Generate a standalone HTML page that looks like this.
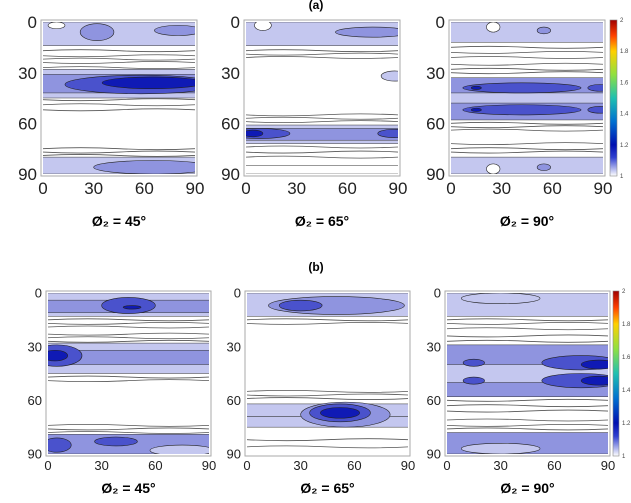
<!DOCTYPE html>
<html><head><meta charset="utf-8"><style>
body{margin:0;background:#fff;width:631px;height:503px;overflow:hidden;font-family:"Liberation Sans",sans-serif}
svg{position:absolute;left:0;top:0}
</style></head><body>
<svg id="c" width="631" height="503"></svg>
<script>
const levelColors=["#ffffff","#c4c7ef","#8f94df","#4a52cc","#0f1ab5"];
const tickLabels=["0","30","60","90"];
const tickValues=[0,30,60,90];
const panelTitles=["Ø₂ = 45°","Ø₂ = 65°","Ø₂ = 90°","Ø₂ = 45°","Ø₂ = 65°","Ø₂ = 90°"];
const cbLabels=["1","1.2","1.4","1.6","1.8","2"];
// bands: [PhiStart, PhiEnd, level]
const bandsA1=[[0,14,1],[28,45,1],[31,42,2],[80,90,1]];
const blobsA1=[[80,5,14,3,2],[32,6,10,5,2],[58,37,45,5.5,3],[65,36,30,3.5,4],[65,86,35,4,2],[8,2,5,2,0]];
const linesA1=[17,20,22,24,27,46,49,52,75,77,79];
const bandsA2=[[0,14,1],[61,72,1],[63,70,2],[85,90,0]];
const blobsA2=[[75,6,22,3,2],[8,66,18,3,3],[4,66,6,2,4],[88,66,10,2.5,3],[88,32,8,3,1],[10,2,5,3,0]];
const linesA2=[17,19,21,55,57,59,74,77,80];
const bandsA3=[[0,12,1],[33,58,2],[42,48,1],[80,90,1]];
const blobsA3=[[42,39,35,3,3],[42,52,35,3,3],[15,39,3,1,4],[15,52,3,1,4],[88,39,7,2,3],[88,52,7,2,3],[25,3,4,3,0],[25,87,4,3,0],[55,5,4,2,2],[55,86,4,2,2]];
const linesA3=[15,18,21,25,28,30,60,62,64,72,75,77];
const bandsB1=[[0,13,1],[4,11,2],[28,45,1],[32,40,2],[79,90,2]];
const blobsB1=[[5,35,14,6,3],[4,35,7,3,4],[45,7,15,4.5,3],[47,8,5,1,4],[38,83,12,2.5,3],[5,85,8,4,3],[75,88,18,3,1]];
const linesB1=[15,17,19,23,25,27,47,49,74,76,78];
const bandsB2=[[0,13,1],[62,69,1],[69,75,1]];
const blobsB2=[[50,7,38,5,2],[30,7,12,3,3],[55,68,25,7,2],[52,67,17,5,3],[52,67,11,3,4]];
const linesB2=[15,17,55,57,59,82,86];
const bandsB3=[[0,13,1],[29,58,2],[40,50,1],[78,90,2]];
const blobsB3=[[75,39,22,4,3],[75,49,22,4,3],[85,40,10,2.5,4],[85,49,10,2.5,4],[15,39,6,2,3],[15,49,6,2,3],[30,3,22,3,1],[30,87,22,3,1]];
const linesB3=[15,17,20,24,27,60,63,66,71,74,76];
const panels=[
 {x0:43,x1:195,y0:22,y1:174,bands:bandsA1,blobs:blobsA1,lines:linesA1,ty:226,big:1},
 {x0:246,x1:398,y0:22,y1:174,bands:bandsA2,blobs:blobsA2,lines:linesA2,ty:226,big:1},
 {x0:451,x1:603,y0:22,y1:174,bands:bandsA3,blobs:blobsA3,lines:linesA3,ty:226,big:1,cb:[610,617,20,176]},
 {x0:48,x1:209,y0:293,y1:454,bands:bandsB1,blobs:blobsB1,lines:linesB1,ty:493,big:0},
 {x0:247,x1:408,y0:293,y1:454,bands:bandsB2,blobs:blobsB2,lines:linesB2,ty:493,big:0},
 {x0:447,x1:608,y0:293,y1:454,bands:bandsB3,blobs:blobsB3,lines:linesB3,ty:493,big:0,cb:[613,619,291,456]}
];
const svg=document.getElementById('c');
const NS='http://www.w3.org/2000/svg';
function mk(t,a,p){const e=document.createElementNS(NS,t);for(const k in a)e.setAttribute(k,a[k]);(p||svg).appendChild(e);return e;}
function txt(s,a,p){const e=mk('text',a,p);e.textContent=s;return e;}
let t=txt('(a)',{x:316,y:9,'font-size':12,'font-weight':'bold','text-anchor':'middle'});


t=txt('(b)',{x:316,y:271,'font-size':12,'font-weight':'bold','text-anchor':'middle'});


panels.forEach((P,i)=>{
 const g=mk('g',{});
 
 
 const sx=v=>P.x0+(P.x1-P.x0)*v/90, sy=v=>P.y0+(P.y1-P.y0)*v/90;
 const cp='cp'+i;
 const d=mk('clipPath',{id:cp},g);mk('rect',{x:P.x0,y:P.y0,width:P.x1-P.x0,height:P.y1-P.y0},d);
 const inner=mk('g',{'clip-path':'url(#'+cp+')'},g);
 mk('rect',{x:P.x0,y:P.y0,width:P.x1-P.x0,height:P.y1-P.y0,fill:'#fff'},inner);
 P.bands.forEach(b=>{const r=mk('rect',{x:P.x0-2,y:sy(b[0]),width:P.x1-P.x0+4,height:sy(b[1])-sy(b[0]),fill:levelColors[b[2]],stroke:'#333','stroke-width':0.5},inner);
  
  });
 P.blobs.forEach(b=>{const e=mk('ellipse',{cx:sx(b[0]),cy:sy(b[1]),rx:(P.x1-P.x0)*b[2]/90,ry:(P.y1-P.y0)*b[3]/90,fill:levelColors[b[4]],stroke:'#222','stroke-width':0.6},inner);
  
  });
 P.lines.forEach((v,k)=>{const y=sy(v);const w=(k%2?2:-2);
  const l=mk('path',{d:`M${P.x0} ${y} Q${sx(22)} ${y+w} ${sx(45)} ${y} T${P.x1} ${y}`,fill:'none',stroke:'#555','stroke-width':0.8},inner);
  
  });
 mk('rect',{x:P.x0-2,y:P.y0-2,width:P.x1-P.x0+4,height:P.y1-P.y0+4,fill:'none',stroke:'#aaa','stroke-width':1},g);
 const fs=P.big?17:13;
 tickValues.forEach((v,k)=>{
  let a=txt(tickLabels[k],{x:P.x0-6,y:sy(v)+fs*0.36,'font-size':fs,'text-anchor':'end',fill:'#222'},g);
  
  
  a=txt(tickLabels[k],{x:sx(v),y:P.y1+(P.big?20:16),'font-size':fs,'text-anchor':'middle',fill:'#222'},g);
  
  
 });
 const ti=txt(panelTitles[i],{x:(P.x0+P.x1)/2,y:P.ty,'font-size':14,'font-weight':'bold','text-anchor':'middle'},g);
 
 
 if(P.cb){const [a,b,c,e]=P.cb;
  const gr=mk('linearGradient',{id:'gr'+i,x1:0,y1:1,x2:0,y2:0},d.parentNode);
  [["0","#ffffff"],["0.12","#3040d0"],["0.2","#0010b0"],["0.35","#0070d0"],["0.5","#20c0b0"],["0.65","#90e040"],["0.8","#ffd000"],["0.9","#ff4000"],["1","#a00000"]].forEach(s=>mk('stop',{offset:s[0],'stop-color':s[1]},gr));
  const cb=mk('rect',{x:a,y:c,width:b-a,height:e-c,fill:'url(#gr'+i+')',stroke:'#888','stroke-width':0.6},g);
  
  
  cbLabels.forEach((s,k)=>{const l=txt(s,{x:b+3,y:e-(e-c)*k/5+2,'font-size':6,fill:'#444'},g);
   
   });
 }
});
</script>
</body></html>
